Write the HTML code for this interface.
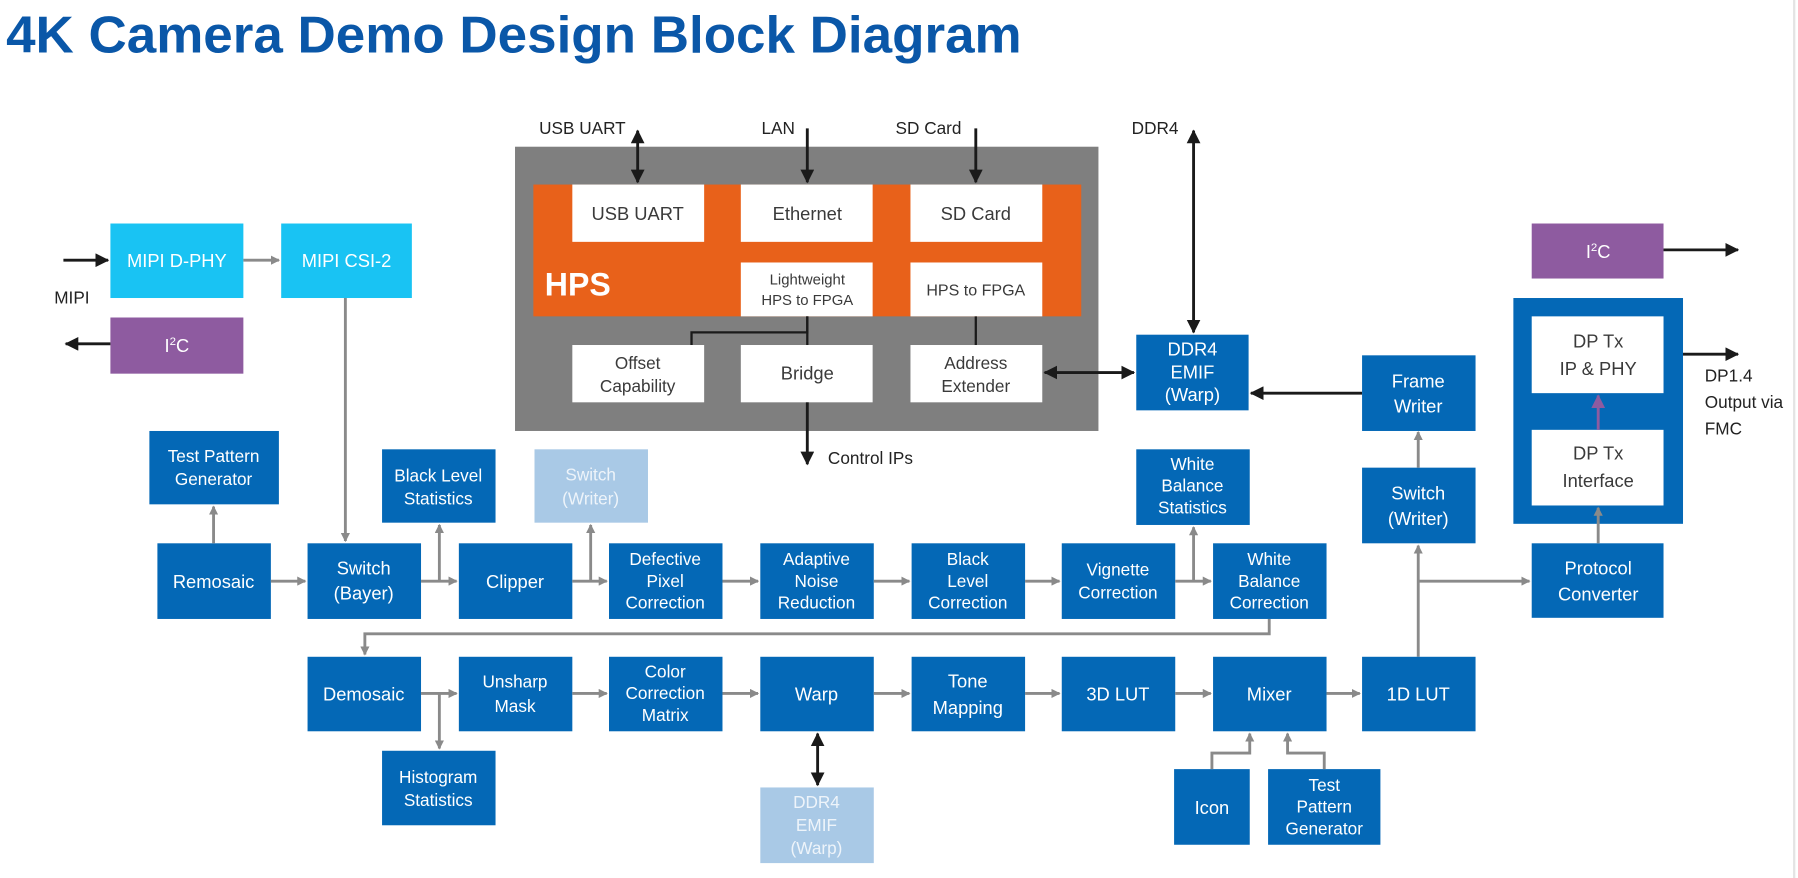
<!DOCTYPE html>
<html><head><meta charset="utf-8"><style>
html,body{margin:0;padding:0;background:#fff;}
svg{display:block;}
text{font-family:"Liberation Sans",sans-serif;}
.b{fill:#0468b6}
.w{fill:#fff}
.t{fill:#fff;font-size:16px;text-anchor:middle}
.k{fill:#3a3a3a;font-size:16px;text-anchor:middle}
.g{stroke:#8a8a8a;stroke-width:2.5;fill:none}
.d{stroke:#1a1a1a;stroke-width:2.5;fill:none}
</style></head><body>
<svg width="1798" height="878" viewBox="0 0 1568 766" xmlns="http://www.w3.org/2000/svg">
<defs>
<marker id="ga" markerWidth="8" markerHeight="8" refX="7" refY="4" orient="auto" markerUnits="userSpaceOnUse"><path d="M0,0 L8,4 L0,8z" fill="#8a8a8a"/></marker>
<marker id="ka" markerWidth="12" markerHeight="12" refX="11" refY="6" orient="auto-start-reverse" markerUnits="userSpaceOnUse"><path d="M0,0 L12,6 L0,12z" fill="#1a1a1a"/></marker>
<marker id="pa" markerWidth="12" markerHeight="12" refX="11" refY="6" orient="auto" markerUnits="userSpaceOnUse"><path d="M0,0 L12,6 L0,12z" fill="#8e5ba0"/></marker>
</defs>
<line x1="1565" y1="0" x2="1565" y2="766" stroke="#e4e4e4" stroke-width="2"/>
<text x="5" y="46" textLength="886" lengthAdjust="spacingAndGlyphs" style="font-size:45px;font-weight:bold;fill:#0a57a8">4K Camera Demo Design Block Diagram</text>

<!-- HPS -->
<rect x="449" y="128" width="509" height="248" fill="#7f7f7f"/>
<rect x="465" y="161" width="478" height="115" fill="#e8611a"/>
<text x="475" y="258" style="font-size:28px;font-weight:bold;fill:#fff">HPS</text>
<rect class="w" x="499" y="161" width="115" height="50"/><text class="k" x="556" y="192">USB UART</text>
<rect class="w" x="646" y="161" width="115" height="50"/><text class="k" x="704" y="192">Ethernet</text>
<rect class="w" x="794" y="161" width="115" height="50"/><text class="k" x="851" y="192">SD Card</text>
<rect class="w" x="646" y="229" width="115" height="47"/><text class="k" style="font-size:13px" x="704" y="248">Lightweight</text><text class="k" style="font-size:13px" x="704" y="266">HPS to FPGA</text>
<rect class="w" x="794" y="229" width="115" height="47"/><text class="k" style="font-size:14px" x="851" y="258">HPS to FPGA</text>
<rect class="w" x="499" y="301" width="115" height="50"/><text class="k" style="font-size:15px" x="556" y="322">Offset</text><text class="k" style="font-size:15px" x="556" y="342">Capability</text>
<rect class="w" x="646" y="301" width="115" height="50"/><text class="k" x="704" y="331">Bridge</text>
<rect class="w" x="794" y="301" width="115" height="50"/><text class="k" style="font-size:15px" x="851" y="322">Address</text><text class="k" style="font-size:15px" x="851" y="342">Extender</text>
<g style="font-size:15px;fill:#222">
<text x="470" y="117">USB UART</text><text x="664" y="117">LAN</text><text x="781" y="117">SD Card</text><text x="987" y="117">DDR4</text><text x="722" y="405">Control IPs</text>
</g>
<line class="d" x1="556" y1="114" x2="556" y2="159" marker-start="url(#ka)" marker-end="url(#ka)"/>
<line class="d" x1="704" y1="112" x2="704" y2="159" marker-end="url(#ka)"/>
<line class="d" x1="851" y1="112" x2="851" y2="159" marker-end="url(#ka)"/>
<polyline class="d" points="704,276 704,290 603,290 603,301" style="stroke-width:2"/>
<line class="d" x1="704" y1="276" x2="704" y2="301" style="stroke-width:2"/>
<line class="d" x1="704" y1="351" x2="704" y2="405" marker-end="url(#ka)"/>
<line class="d" x1="851" y1="276" x2="851" y2="301" style="stroke-width:2"/>
<line class="d" x1="1041" y1="114" x2="1041" y2="290" marker-start="url(#ka)" marker-end="url(#ka)"/>
<line class="d" x1="911" y1="325" x2="989" y2="325" marker-start="url(#ka)" marker-end="url(#ka)"/>
<rect class="b" x="991" y="292" width="98" height="66"/><text class="t" x="1040" y="310">DDR4</text><text class="t" x="1040" y="330">EMIF</text><text class="t" x="1040" y="350">(Warp)</text>
<line class="d" x1="1188" y1="343" x2="1091" y2="343" marker-end="url(#ka)"/>

<!-- right side -->
<rect class="b" x="1188" y="310" width="99" height="66"/><text class="t" x="1237" y="338">Frame</text><text class="t" x="1237" y="360">Writer</text>
<rect class="b" x="1188" y="408" width="99" height="66"/><text class="t" x="1237" y="436">Switch</text><text class="t" x="1237" y="458">(Writer)</text>
<line class="g" x1="1237" y1="408" x2="1237" y2="377" marker-end="url(#ga)"/>
<rect x="1336" y="195" width="115" height="48" fill="#8e5ba0"/><text class="t" x="1394" y="225">I<tspan dy="-6" style="font-size:10px">2</tspan><tspan dy="6">C</tspan></text>
<line class="d" x1="1451" y1="218" x2="1516" y2="218" marker-end="url(#ka)"/>
<rect class="b" x="1320" y="260" width="148" height="197"/>
<rect class="w" x="1336" y="276" width="115" height="67"/><text class="k" x="1394" y="303">DP Tx</text><text class="k" x="1394" y="327">IP &amp; PHY</text>
<rect class="w" x="1336" y="375" width="115" height="66"/><text class="k" x="1394" y="401">DP Tx</text><text class="k" x="1394" y="425">Interface</text>
<line x1="1394" y1="375" x2="1394" y2="345" stroke="#8e5ba0" stroke-width="2.5" marker-end="url(#pa)"/>
<line class="d" x1="1468" y1="309" x2="1516" y2="309" marker-end="url(#ka)"/>
<g style="font-size:15px;fill:#222"><text x="1487" y="333">DP1.4</text><text x="1487" y="356">Output via</text><text x="1487" y="379">FMC</text></g>
<rect class="b" x="1336" y="474" width="115" height="65"/><text class="t" x="1394" y="501">Protocol</text><text class="t" x="1394" y="524">Converter</text>
<line class="g" x1="1394" y1="474" x2="1394" y2="443" marker-end="url(#ga)"/>
<line class="g" x1="1237" y1="573" x2="1237" y2="476" marker-end="url(#ga)"/>
<line class="g" x1="1237" y1="507" x2="1334" y2="507" marker-end="url(#ga)"/>

<!-- left -->
<rect x="96" y="195" width="116" height="65" fill="#19c3f3"/><text class="t" x="154" y="233">MIPI D-PHY</text>
<rect x="245" y="195" width="114" height="65" fill="#19c3f3"/><text class="t" x="302" y="233">MIPI CSI-2</text>
<line class="d" x1="55" y1="227" x2="94" y2="227" marker-end="url(#ka)"/>
<text x="47" y="265" style="font-size:15px;fill:#222">MIPI</text>
<line class="g" x1="212" y1="227" x2="243" y2="227" marker-end="url(#ga)"/>
<rect x="96" y="277" width="116" height="49" fill="#8e5ba0"/><text class="t" x="154" y="307">I<tspan dy="-6" style="font-size:10px">2</tspan><tspan dy="6">C</tspan></text>
<line class="d" x1="96" y1="300" x2="57" y2="300" marker-end="url(#ka)"/>
<line class="g" x1="301" y1="260" x2="301" y2="472" marker-end="url(#ga)"/>

<!-- row 1 -->
<rect class="b" x="130" y="376" width="113" height="64"/><text class="t" style="font-size:15px" x="186" y="403">Test Pattern</text><text class="t" style="font-size:15px" x="186" y="423">Generator</text>
<rect class="b" x="333" y="392" width="99" height="64"/><text class="t" style="font-size:15px" x="382" y="420">Black Level</text><text class="t" style="font-size:15px" x="382" y="440">Statistics</text>
<rect x="466" y="392" width="99" height="64" fill="#a9c9e6"/><text class="t" style="font-size:15px;fill:#eef4fa" x="515" y="419">Switch</text><text class="t" style="font-size:15px;fill:#eef4fa" x="515" y="440">(Writer)</text>
<rect class="b" x="991" y="392" width="99" height="66"/><text class="t" style="font-size:15px" x="1040" y="410">White</text><text class="t" style="font-size:15px" x="1040" y="429">Balance</text><text class="t" style="font-size:15px" x="1040" y="448">Statistics</text>

<rect class="b" x="137" y="474" width="99" height="66"/><text class="t" x="186" y="513">Remosaic</text>
<rect class="b" x="268" y="474" width="99" height="66"/><text class="t" x="317" y="501">Switch</text><text class="t" x="317" y="523">(Bayer)</text>
<rect class="b" x="400" y="474" width="99" height="66"/><text class="t" x="449" y="513">Clipper</text>
<rect class="b" x="531" y="474" width="99" height="66"/><text class="t" style="font-size:15px" x="580" y="493">Defective</text><text class="t" style="font-size:15px" x="580" y="512">Pixel</text><text class="t" style="font-size:15px" x="580" y="531">Correction</text>
<rect class="b" x="663" y="474" width="99" height="66"/><text class="t" style="font-size:15px" x="712" y="493">Adaptive</text><text class="t" style="font-size:15px" x="712" y="512">Noise</text><text class="t" style="font-size:15px" x="712" y="531">Reduction</text>
<rect class="b" x="795" y="474" width="99" height="66"/><text class="t" style="font-size:15px" x="844" y="493">Black</text><text class="t" style="font-size:15px" x="844" y="512">Level</text><text class="t" style="font-size:15px" x="844" y="531">Correction</text>
<rect class="b" x="926" y="474" width="99" height="66"/><text class="t" style="font-size:15px" x="975" y="502">Vignette</text><text class="t" style="font-size:15px" x="975" y="522">Correction</text>
<rect class="b" x="1058" y="474" width="99" height="66"/><text class="t" style="font-size:15px" x="1107" y="493">White</text><text class="t" style="font-size:15px" x="1107" y="512">Balance</text><text class="t" style="font-size:15px" x="1107" y="531">Correction</text>

<line class="g" x1="186" y1="474" x2="186" y2="442" marker-end="url(#ga)"/>
<line class="g" x1="236" y1="507" x2="266" y2="507" marker-end="url(#ga)"/>
<line class="g" x1="367" y1="507" x2="398" y2="507" marker-end="url(#ga)"/>
<line class="g" x1="383" y1="507" x2="383" y2="458" marker-end="url(#ga)"/>
<line class="g" x1="499" y1="507" x2="529" y2="507" marker-end="url(#ga)"/>
<line class="g" x1="515" y1="507" x2="515" y2="458" marker-end="url(#ga)"/>
<line class="g" x1="630" y1="507" x2="661" y2="507" marker-end="url(#ga)"/>
<line class="g" x1="762" y1="507" x2="793" y2="507" marker-end="url(#ga)"/>
<line class="g" x1="894" y1="507" x2="924" y2="507" marker-end="url(#ga)"/>
<line class="g" x1="1025" y1="507" x2="1056" y2="507" marker-end="url(#ga)"/>
<line class="g" x1="1041" y1="507" x2="1041" y2="460" marker-end="url(#ga)"/>
<polyline class="g" points="1107,540 1107,553 318,553 318,571" marker-end="url(#ga)"/>

<!-- row 2 -->
<rect class="b" x="268" y="573" width="99" height="65"/><text class="t" x="317" y="611">Demosaic</text>
<rect class="b" x="400" y="573" width="99" height="65"/><text class="t" style="font-size:15px" x="449" y="600">Unsharp</text><text class="t" style="font-size:15px" x="449" y="621">Mask</text>
<rect class="b" x="531" y="573" width="99" height="65"/><text class="t" style="font-size:15px" x="580" y="591">Color</text><text class="t" style="font-size:15px" x="580" y="610">Correction</text><text class="t" style="font-size:15px" x="580" y="629">Matrix</text>
<rect class="b" x="663" y="573" width="99" height="65"/><text class="t" x="712" y="611">Warp</text>
<rect class="b" x="795" y="573" width="99" height="65"/><text class="t" x="844" y="600">Tone</text><text class="t" x="844" y="623">Mapping</text>
<rect class="b" x="926" y="573" width="99" height="65"/><text class="t" x="975" y="611">3D LUT</text>
<rect class="b" x="1058" y="573" width="99" height="65"/><text class="t" x="1107" y="611">Mixer</text>
<rect class="b" x="1188" y="573" width="99" height="65"/><text class="t" x="1237" y="611">1D LUT</text>

<line class="g" x1="367" y1="605" x2="398" y2="605" marker-end="url(#ga)"/>
<line class="g" x1="383" y1="605" x2="383" y2="653" marker-end="url(#ga)"/>
<line class="g" x1="499" y1="605" x2="529" y2="605" marker-end="url(#ga)"/>
<line class="g" x1="630" y1="605" x2="661" y2="605" marker-end="url(#ga)"/>
<line class="g" x1="762" y1="605" x2="793" y2="605" marker-end="url(#ga)"/>
<line class="g" x1="894" y1="605" x2="924" y2="605" marker-end="url(#ga)"/>
<line class="g" x1="1025" y1="605" x2="1056" y2="605" marker-end="url(#ga)"/>
<line class="g" x1="1157" y1="605" x2="1186" y2="605" marker-end="url(#ga)"/>

<rect class="b" x="333" y="655" width="99" height="65"/><text class="t" style="font-size:15px" x="382" y="683">Histogram</text><text class="t" style="font-size:15px" x="382" y="703">Statistics</text>
<line class="d" x1="713" y1="640" x2="713" y2="685" marker-start="url(#ka)" marker-end="url(#ka)"/>
<rect x="663" y="687" width="99" height="66" fill="#a9c9e6"/><text class="t" style="font-size:15px;fill:#eef4fa" x="712" y="705">DDR4</text><text class="t" style="font-size:15px;fill:#eef4fa" x="712" y="725">EMIF</text><text class="t" style="font-size:15px;fill:#eef4fa" x="712" y="745">(Warp)</text>
<rect class="b" x="1024" y="671" width="66" height="66"/><text class="t" x="1057" y="710">Icon</text>
<rect class="b" x="1106" y="671" width="98" height="66"/><text class="t" style="font-size:15px" x="1155" y="690">Test</text><text class="t" style="font-size:15px" x="1155" y="709">Pattern</text><text class="t" style="font-size:15px" x="1155" y="728">Generator</text>
<polyline class="g" points="1057,671 1057,657 1090,657 1090,640" marker-end="url(#ga)"/>
<polyline class="g" points="1155,671 1155,657 1123,657 1123,640" marker-end="url(#ga)"/>
</svg>
</body></html>
